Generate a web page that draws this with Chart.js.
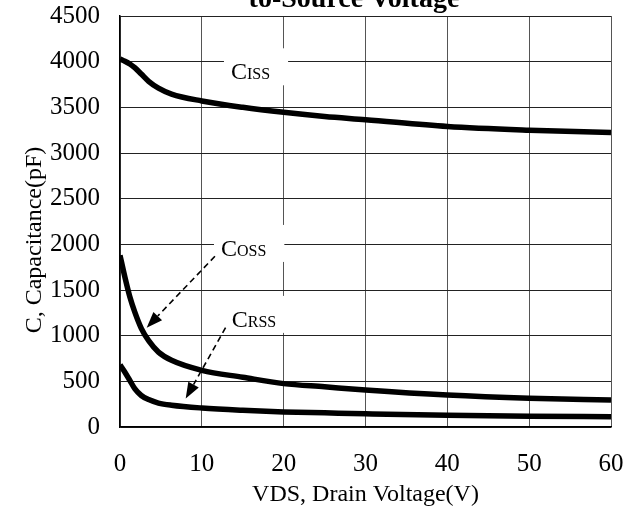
<!DOCTYPE html>
<html>
<head>
<meta charset="utf-8">
<script src="https://cdn.jsdelivr.net/npm/chart.js@4.4.0/dist/chart.umd.min.js"></script>
<style>
    html, body { margin: 0; padding: 0; background: #fff; }
    canvas { display: block; }
</style>
</head>
<body>
<canvas id="capChart" width="637" height="513"></canvas>
<script>
// Drain voltage (V) sample points
const vds  = [0, 0.6, 1.2, 1.8, 2.6, 3.5, 4.7, 6.3, 10, 15, 20, 25, 30, 40, 50, 60];
const ciss = [4030, 4005, 3975, 3935, 3865, 3785, 3710, 3645, 3570, 3500, 3445, 3400, 3365, 3290, 3250, 3225];
const coss = [1880, 1640, 1425, 1260, 1080, 945, 820, 730, 620, 545, 475, 440, 405, 350, 315, 295];
const crss = [680, 600, 510, 420, 345, 300, 262, 238, 208, 183, 165, 155, 145, 128, 118, 112];

const xTicks = [0, 10, 20, 30, 40, 50, 60];
const yTicks = [0, 500, 1000, 1500, 2000, 2500, 3000, 3500, 4000, 4500];

const chartTitle = 'to-Source Voltage';
const xTitle = 'VDS, Drain Voltage(V)';
const yTitle = 'C, Capacitance(pF)';

// curve labels: [VDS, pF] at the start of the text baseline
const labelNames = [['C', 'ISS'], ['C', 'OSS'], ['C', 'RSS']];
const labelAt = [[13.56, 3807], [12.34, 1873], [13.65, 1096]];

// dashed pointer arrows: from -> to, in [VDS, pF]
const arrowFrom = [[11.6, 1869], [12.9, 1088]];
const arrowTo = [[3.26, 1088], [8.03, 311]];

const FONT = '"Liberation Serif", "Times New Roman", serif';

function px(chart, p) {
    return [chart.scales.x.getPixelForValue(p[0]), chart.scales.y.getPixelForValue(p[1])];
}

function labelBox(ctx, chart, i) {
    const [x, y] = px(chart, labelAt[i]);
    ctx.font = '24px ' + FONT;
    const wMain = ctx.measureText(labelNames[i][0]).width;
    ctx.font = '16px ' + FONT;
    const wSub = ctx.measureText(labelNames[i][1]).width;
    return { x, y, wMain, wSub };
}

const annotations = {
    id: 'annotations',
    beforeDatasetsDraw(chart) {
        const ctx = chart.ctx;
        ctx.save();
        ctx.fillStyle = '#fff';
        labelNames.forEach((n, i) => {
            const b = labelBox(ctx, chart, i);
            ctx.fillRect(b.x - 7, b.y - 31, b.wMain + b.wSub + 25, 37);
        });
        ctx.restore();
    },
    afterDatasetsDraw(chart) {
        const ctx = chart.ctx;
        ctx.save();
        ctx.fillStyle = '#000';
        ctx.textBaseline = 'alphabetic';
        ctx.textAlign = 'left';
        labelNames.forEach((n, i) => {
            const b = labelBox(ctx, chart, i);
            ctx.font = '24px ' + FONT;
            ctx.fillText(n[0], b.x, b.y);
            ctx.font = '16px ' + FONT;
            ctx.fillText(n[1], b.x + b.wMain, b.y);
        });

        ctx.strokeStyle = '#000';
        ctx.lineWidth = 1.6;
        arrowFrom.forEach((f, i) => {
            const [x1, y1] = px(chart, f);
            const [x2, y2] = px(chart, arrowTo[i]);
            const ang = Math.atan2(y2 - y1, x2 - x1);
            const head = 16;
            const bx = x2 - head * Math.cos(ang);
            const by = y2 - head * Math.sin(ang);
            ctx.setLineDash([6, 4]);
            ctx.beginPath();
            ctx.moveTo(x1, y1);
            ctx.lineTo(bx, by);
            ctx.stroke();
            ctx.setLineDash([]);
            ctx.beginPath();
            ctx.moveTo(x2, y2);
            ctx.lineTo(bx + 6 * Math.sin(ang), by - 6 * Math.cos(ang));
            ctx.lineTo(bx - 6 * Math.sin(ang), by + 6 * Math.cos(ang));
            ctx.closePath();
            ctx.fill();
        });

        // title, cut off by the top edge as in the original
        ctx.font = 'bold 28px ' + FONT;
        ctx.textAlign = 'center';
        ctx.fillText(chartTitle, 354, 7);

        // y axis title
        ctx.font = '24px ' + FONT;
        ctx.translate(35, 240);
        ctx.rotate(-Math.PI / 2);
        ctx.textBaseline = 'middle';
        ctx.fillText(yTitle, 0, 0);
        ctx.restore();
    }
};

function curve(values) {
    return {
        data: vds.map((v, i) => ({ x: v, y: values[i] })),
        borderColor: '#000',
        borderWidth: 5.5,
        pointRadius: 0,
        fill: false,
        cubicInterpolationMode: 'monotone',
        clip: 0
    };
}

function noAxisPadding(axis) {
    axis.paddingTop = 0;
    axis.paddingBottom = 0;
    axis.paddingLeft = 0;
    axis.paddingRight = 0;
}

new Chart(document.getElementById('capChart').getContext('2d'), {
    type: 'line',
    data: {
        datasets: [curve(ciss), curve(coss), curve(crss)]
    },
    options: {
        responsive: false,
        animation: false,
        devicePixelRatio: 1,
        layout: { padding: { left: 0, right: 26, top: 16, bottom: 0 } },
        plugins: {
            legend: { display: false },
            tooltip: { enabled: false }
        },
        scales: {
            x: {
                type: 'linear',
                min: 0,
                max: 60,
                afterBuildTicks: (axis) => { axis.ticks = xTicks.map(v => ({ value: v })); },
                afterFit: (axis) => { axis.height = 86; noAxisPadding(axis); },
                grid: { color: '#555', lineWidth: 1, drawTicks: false },
                border: { color: '#000', width: 1.5 },
                ticks: {
                    color: '#000',
                    padding: 22,
                    maxRotation: 0,
                    font: { family: FONT, size: 25 }
                },
                title: {
                    display: true,
                    text: xTitle,
                    color: '#000',
                    padding: { top: 0, bottom: 4 },
                    font: { family: FONT, size: 24 }
                }
            },
            y: {
                min: 0,
                max: 4500,
                afterBuildTicks: (axis) => { axis.ticks = yTicks.map(v => ({ value: v })); },
                afterFit: (axis) => { axis.width = 120; noAxisPadding(axis); },
                grid: { color: '#222', lineWidth: 1, drawTicks: false },
                border: { color: '#000', width: 1.5 },
                ticks: {
                    color: '#000',
                    padding: 20,
                    callback: (v) => String(v),
                    font: { family: FONT, size: 25 }
                }
            }
        }
    },
    plugins: [annotations]
});
</script>
</body>
</html>
